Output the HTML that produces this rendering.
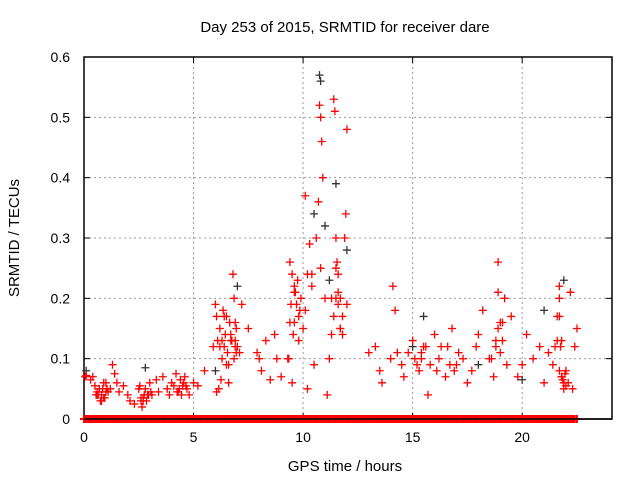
<!DOCTYPE html>
<html><head><meta charset="utf-8"><style>
body{margin:0;background:#fff}
svg{display:block;font-family:"Liberation Sans",sans-serif}
</style></head><body>
<svg id="chart" width="640" height="480">
<text x="345" y="32" font-size="15" text-anchor="middle">Day 253 of 2015, SRMTID for receiver dare</text>
<text x="345" y="471" font-size="15" text-anchor="middle">GPS time / hours</text>
<text transform="translate(19,238) rotate(-90)" font-size="15" text-anchor="middle">SRMTID / TECUs</text>
<g id="grid"></g><g id="ticks"></g>
<rect x="84" y="57" width="528" height="362" fill="none" stroke="#000" stroke-width="1.5"/>
<g id="marks"></g>
</svg>
<script>
const xTicks=[0,5,10,15,20];
const yTicks=[0,0.1,0.2,0.3,0.4,0.5,0.6];
const yTickLabels=["0","0.1","0.2","0.3","0.4","0.5","0.6"];
const redX=[0.05,0.1,0.3,0.5,0.6,0.7,0.8,0.9,1.0,1.1,0.75,1.2,1.3,1.4,1.5,1.6,1.8,2.0,2.1,2.3,2.5,2.6,2.7,2.8,2.9,2.65,3.0,3.1,3.3,3.4,3.6,3.8,3.9,4.0,4.2,4.3,4.4,4.5,4.6,4.7,4.8,5.0,5.2,5.5,5.9,6.0,6.05,6.1,6.2,6.3,6.4,6.5,6.6,6.7,6.8,6.85,6.9,6.95,6.6,7.0,7.2,7.5,7.9,8.0,8.1,8.3,8.5,8.7,8.8,9.0,9.3,9.4,9.5,9.6,9.7,9.8,9.9,9.5,10.0,10.1,10.2,10.3,10.1,10.4,10.5,10.6,10.7,10.75,10.8,10.85,10.9,10.8,11.0,11.1,11.2,11.3,11.4,11.45,11.5,11.55,11.6,11.7,11.8,11.9,12.0,11.95,12.0,13.0,13.3,13.5,13.6,14.0,14.2,14.5,14.6,14.8,15.0,15.1,15.3,15.5,15.7,15.8,16.0,16.2,16.5,16.6,16.8,17.0,17.3,17.5,17.7,17.9,18.0,18.2,18.5,18.8,18.9,19.0,19.1,19.2,19.3,19.5,19.8,20.0,20.2,20.5,20.8,21.0,21.2,21.4,21.5,21.6,21.7,21.8,21.9,22.0,22.1,22.2,22.4,22.5,6.3,6.5,6.9,7.1,9.6,10.2,10.4,11.3,11.6,18.9,19.1,21.7,21.8,
0.4,0.55,0.65,0.85,0.95,1.05,0.6,0.8,0.9,1.0,2.55,2.75,2.85,2.95,3.05,2.6,2.7,4.1,4.25,4.35,4.45,4.55,4.65,6.05,6.15,6.25,6.35,6.45,6.55,6.65,6.75,6.85,6.95,6.2,6.4,6.7,6.9,9.35,9.45,9.55,9.65,9.75,9.85,9.4,9.6,9.8,11.4,11.5,11.6,11.7,11.8,11.5,11.7,14.1,14.3,15.2,15.4,15.6,15.4,16.1,16.3,16.7,16.9,17.1,18.6,18.7,18.8,18.9,19.0,21.6,21.7,21.75,21.8,21.85,21.9,21.95,22.0,21.7,21.8,21.9,22.3];
const redY=[0.07,0.072,0.065,0.055,0.045,0.05,0.04,0.035,0.06,0.045,0.03,0.05,0.09,0.075,0.06,0.045,0.055,0.04,0.03,0.025,0.05,0.035,0.03,0.05,0.04,0.02,0.06,0.04,0.065,0.045,0.07,0.05,0.04,0.06,0.075,0.045,0.065,0.055,0.07,0.05,0.04,0.06,0.055,0.08,0.12,0.19,0.17,0.13,0.15,0.1,0.12,0.17,0.09,0.14,0.24,0.2,0.13,0.11,0.06,0.12,0.19,0.15,0.11,0.1,0.08,0.13,0.065,0.14,0.1,0.07,0.1,0.26,0.24,0.22,0.19,0.17,0.2,0.06,0.15,0.18,0.24,0.29,0.37,0.22,0.09,0.3,0.36,0.52,0.5,0.46,0.4,0.25,0.2,0.04,0.1,0.14,0.53,0.51,0.3,0.26,0.24,0.2,0.14,0.3,0.48,0.34,0.19,0.11,0.12,0.08,0.06,0.1,0.18,0.09,0.07,0.11,0.13,0.1,0.08,0.12,0.04,0.09,0.14,0.1,0.07,0.12,0.15,0.09,0.1,0.06,0.08,0.12,0.14,0.18,0.1,0.12,0.21,0.16,0.13,0.2,0.09,0.17,0.07,0.09,0.14,0.1,0.12,0.06,0.11,0.09,0.12,0.17,0.2,0.07,0.05,0.08,0.06,0.21,0.12,0.15,0.13,0.09,0.12,0.11,0.16,0.05,0.24,0.2,0.21,0.26,0.16,0.22,0.13,0.07,0.04,
0.04,0.05,0.035,0.05,0.04,0.03,0.06,0.045,0.055,0.04,0.03,0.04,0.045,0.03,0.035,0.055,0.045,0.05,0.04,0.06,0.055,0.045,0.05,0.065,0.18,0.14,0.11,0.16,0.13,0.1,0.15,0.12,0.17,0.13,0.16,0.1,0.19,0.14,0.21,0.23,0.18,0.16,0.21,0.13,0.17,0.25,0.19,0.15,0.17,0.2,0.15,0.22,0.11,0.09,0.1,0.12,0.11,0.08,0.12,0.09,0.08,0.11,0.1,0.07,0.13,0.15,0.11,0.13,0.17,0.12,0.07,0.065,0.06,0.075,0.055,0.08,0.07,0.06,0.05,0.035,0.085,0.065];
const blackX=[0.1,2.8,6.0,7.0,10.5,10.75,10.8,11.0,11.2,11.5,12.0,15.0,15.5,18.0,20.0,21.0,21.9];
const blackY=[0.08,0.085,0.08,0.22,0.34,0.57,0.56,0.32,0.23,0.39,0.28,0.12,0.17,0.09,0.065,0.18,0.23];
const zeroX=[0.0,0.08,0.16,0.24,0.32,0.4,0.48,0.56,0.64,0.72,0.8,0.88,0.96,1.04,1.12,1.2,1.28,1.36,1.44,1.52,1.6,1.68,1.76,1.84,1.92,2.0,2.08,2.16,2.24,2.32,2.4,2.48,2.56,2.64,2.72,2.8,2.88,2.96,3.04,3.12,3.2,3.28,3.36,3.44,3.52,3.6,3.68,3.76,3.84,3.92,4.0,4.08,4.16,4.24,4.32,4.4,4.48,4.56,4.64,4.72,4.8,4.88,4.96,5.04,5.12,5.2,5.28,5.36,5.44,5.52,5.6,5.68,5.76,5.84,5.92,6.0,6.08,6.16,6.24,6.32,6.4,6.48,6.56,6.64,6.72,6.8,6.88,6.96,7.04,7.12,7.2,7.28,7.36,7.44,7.52,7.6,7.68,7.76,7.84,7.92,8.0,8.08,8.16,8.24,8.32,8.4,8.48,8.56,8.64,8.72,8.8,8.88,8.96,9.04,9.12,9.2,9.28,9.36,9.44,9.52,9.6,9.68,9.76,9.84,9.92,10.0,10.08,10.16,10.24,10.32,10.4,10.48,10.56,10.64,10.72,10.8,10.88,10.96,11.04,11.12,11.2,11.28,11.36,11.44,11.52,11.6,11.68,11.76,11.84,11.92,12.0,12.08,12.16,12.24,12.32,12.4,12.48,12.56,12.64,12.72,12.8,12.88,12.96,13.04,13.12,13.2,13.28,13.36,13.44,13.52,13.6,13.68,13.76,13.84,13.92,14.0,14.08,14.16,14.24,14.32,14.4,14.48,14.56,14.64,14.72,14.8,14.88,14.96,15.04,15.12,15.2,15.28,15.36,15.44,15.52,15.6,15.68,15.76,15.84,15.92,16.0,16.08,16.16,16.24,16.32,16.4,16.48,16.56,16.64,16.72,16.8,16.88,16.96,17.04,17.12,17.2,17.28,17.36,17.44,17.52,17.6,17.68,17.76,17.84,17.92,18.0,18.08,18.16,18.24,18.32,18.4,18.48,18.56,18.64,18.72,18.8,18.88,18.96,19.04,19.12,19.2,19.28,19.36,19.44,19.52,19.6,19.68,19.76,19.84,19.92,20.0,20.08,20.16,20.24,20.32,20.4,20.48,20.56,20.64,20.72,20.8,20.88,20.96,21.04,21.12,21.2,21.28,21.36,21.44,21.52,21.6,21.68,21.76,21.84,21.92,22.0,22.08,22.16,22.24,22.32,22.4,22.5];

const X0=84,X1=612,Y0=419,Y1=57,XMAX=24.1,YMAX=0.6;
const xs=v=>X0+v/XMAX*(X1-X0);
const ys=v=>Y0-v/YMAX*(Y0-Y1);
const NS='http://www.w3.org/2000/svg';
function mk(tag,attrs,parent){const e=document.createElementNS(NS,tag);for(const k in attrs)e.setAttribute(k,attrs[k]);parent.appendChild(e);return e;}
const grid=document.getElementById('grid'),ticks=document.getElementById('ticks'),marks=document.getElementById('marks');
xTicks.forEach(t=>{const x=xs(t);
 if(t>0){const g=mk('line',{x1:x,x2:x,y1:Y0,y2:Y1,stroke:'#999','stroke-dasharray':'2,3'},grid);
 
 }
 const l=mk('text',{x:x,y:Y0+23,'font-size':14,'text-anchor':'middle'},ticks);l.textContent=t;
 
 
 mk('line',{x1:x,x2:x,y1:Y0,y2:Y0-6,stroke:'#000'},ticks);mk('line',{x1:x,x2:x,y1:Y1,y2:Y1+6,stroke:'#000'},ticks);});
yTicks.forEach((t,i)=>{const y=ys(t);
 if(t>0&&t<0.6){const g=mk('line',{x1:X0,x2:X1,y1:y,y2:y,stroke:'#999','stroke-dasharray':'2,3'},grid);
 
 }
 const l=mk('text',{x:X0-14,y:y+5,'font-size':14,'text-anchor':'end'},ticks);l.textContent=yTickLabels[i];
 
 
 mk('line',{x1:X0,x2:X0+6,y1:y,y2:y,stroke:'#000'},ticks);mk('line',{x1:X1,x2:X1-6,y1:y,y2:y,stroke:'#000'},ticks);});
function plus(x,y,c,name,w){const p=mk('path',{d:`M${x-4},${y}h8M${x},${y-4}v8`,stroke:c,'stroke-width':w,fill:'none'},marks);
 
 }
blackX.forEach((v,i)=>plus(xs(v),ys(blackY[i]),'#333','black-point',1.3));
redX.forEach((v,i)=>plus(xs(v),ys(redY[i]),'#f00','red-point',1.3));
zeroX.forEach(v=>plus(xs(v),ys(0),'#f00','zero-point',2));
const axis=mk('line',{x1:X0,x2:X1,y1:Y0,y2:Y0,stroke:'#000','stroke-width':1.5},marks);


</script>
</body></html>
